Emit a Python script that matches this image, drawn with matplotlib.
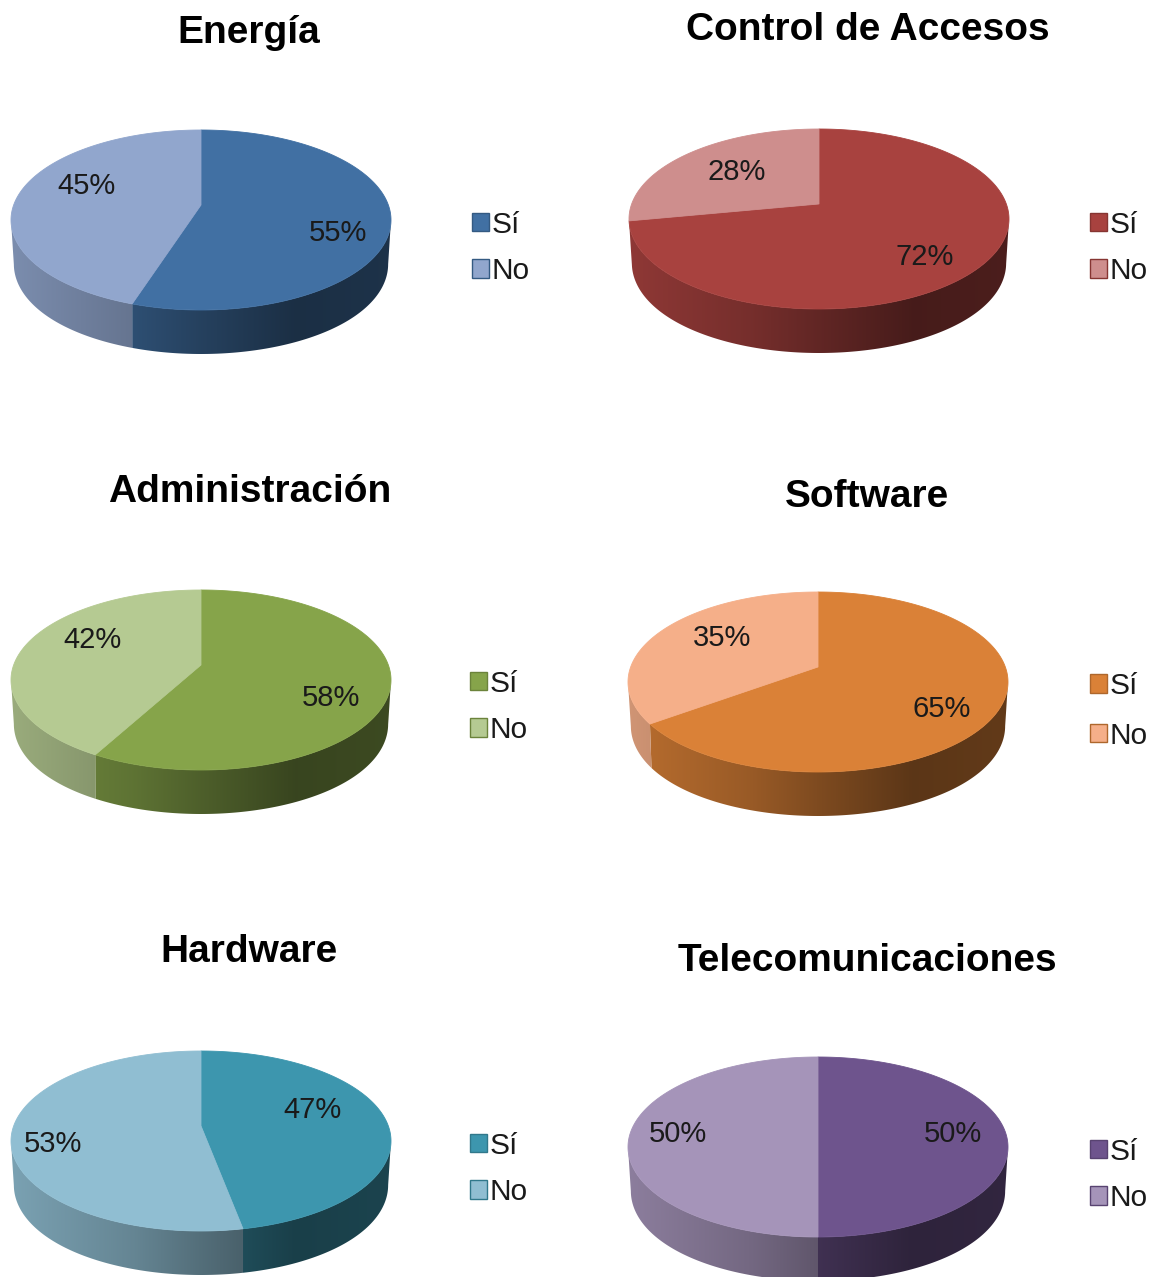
import numpy as np
import matplotlib
matplotlib.use("Agg")
import matplotlib.pyplot as plt
from matplotlib.patches import Patch, Polygon

plt.rcParams['font.family'] = ['Liberation Sans', 'DejaVu Sans']

# Data
titles = ["Energía", "Control de Accesos", "Administración", "Software", "Hardware", "Telecomunicaciones"]
si_values = [55, 72, 58, 65, 47, 50]
no_values = [45, 28, 42, 35, 53, 50]
legend_labels = ["Sí", "No"]

si_colors = ["#4170A3", "#A8423F", "#86A44A", "#DA8137", "#3D96AE", "#6E548D"]
no_colors = ["#91A6CD", "#CE8E8D", "#B5CA92", "#F5AF89", "#90BED2", "#A594B9"]

# Layout, all in pixels of the 1152x1277 picture
W, H = 1152, 1277
pie_centers = [(201, 220), (819, 219), (201, 680), (818, 682), (201, 1141), (818, 1147)]
title_pos = [(249, 33), (868, 30), (250, 492), (867, 497), (249, 952), (867, 961)]
si_label_pos = [(338, 233), (925, 257), (331, 698), (942, 709), (312, 1110), (953, 1134)]
no_label_pos = [(86, 186), (737, 172), (93, 640), (722, 638), (53, 1144), (678, 1134)]
legend_pos = [(472, 248), (1090, 248), (470, 707), (1090, 711), (470, 1169), (1090, 1175)]
legend_gap = [0.62, 0.62, 0.62, 0.72, 0.62, 0.62]
RX, RY, DEPTH = 190, 90, 44
TILT = 0.167  # centre of the disc sits above the middle of the ellipse
RIM_SHRINK = 0.015  # lower rim of the wall is a little narrower at the sides


def project(theta):
    # angle clockwise from the top -> point on the tilted disc
    x, y = np.sin(theta), np.cos(theta)
    den = 1 + TILT * y
    return x * np.sqrt(1 - TILT ** 2) / den, (y + TILT) / den


def shade(x):
    return np.interp(x, [-1, -0.35, 0, 0.5, 1], [0.85, 0.70, 0.58, 0.42, 0.45])


def draw_pie(ax, values, colors):
    depth = DEPTH / RY
    edges = np.radians(np.cumsum([0] + values) * 3.6)
    grad_x = np.linspace(-1, 1, 500)
    # side wall: horizontal gradient clipped to the visible part of each slice
    for start, end, col in zip(edges[:-1], edges[1:], colors):
        px, py = project(np.linspace(start, end, 400))
        keep = py <= 0
        if keep.sum() < 2 or np.ptp(px[keep]) < 0.01:
            continue
        px, py = px[keep], py[keep]
        base = np.array(matplotlib.colors.to_rgb(col))
        img = (base[None, :] * shade(grad_x)[:, None])[None, :, :]
        im = ax.imshow(img, extent=(-1, 1, -1 - depth, 1), aspect='auto',
                       interpolation='bilinear', zorder=1)
        low_x = px * (1 - RIM_SHRINK * px ** 4)
        wall = np.c_[np.r_[px, low_x[::-1]], np.r_[py, py[::-1] - depth]]
        clip = Polygon(wall, closed=True, transform=ax.transData)
        im.set_clip_path(clip)
    # top of the pie
    for start, end, col in zip(edges[:-1], edges[1:], colors):
        px, py = project(np.linspace(start, end, 300))
        ax.fill(np.r_[0, px], np.r_[TILT, py], facecolor=col, edgecolor=col,
                lw=0.6, clip_on=False, zorder=3)
    ax.set_xlim(-1, 1)
    ax.set_ylim(-1 - depth, 1)


fig = plt.figure(figsize=(W / 100, H / 100), dpi=100)

# overlay in pixel coordinates for the texts
over = fig.add_axes([0, 0, 1, 1], zorder=5)
over.set_xlim(0, W)
over.set_ylim(H, 0)
over.axis('off')

for k in range(6):
    cx, cy = pie_centers[k]
    left, bottom = (cx - RX) / W, (H - cy - RY - DEPTH) / H
    ax = fig.add_axes([left, bottom, 2 * RX / W, (2 * RY + DEPTH) / H])
    ax.axis('off')

    colors = [si_colors[k], no_colors[k]]
    draw_pie(ax, [si_values[k], no_values[k]], colors)

    over.text(*title_pos[k], titles[k], fontsize=28, fontweight='bold', ha='center', va='center', color='black')
    over.text(*si_label_pos[k], f"{si_values[k]}%", fontsize=21, ha='center', va='center', color='#1a1a1a')
    over.text(*no_label_pos[k], f"{no_values[k]}%", fontsize=21, ha='center', va='center', color='#1a1a1a')

    handles = [Patch(facecolor=c, edgecolor=np.array(matplotlib.colors.to_rgb(si_colors[k])) * 0.8, lw=1.0)
               for c in colors]
    lx, ly = legend_pos[k]
    fig.legend(handles, legend_labels, loc='center left', bbox_to_anchor=(lx / W, 1 - ly / H),
               frameon=False, fontsize=21.5, handlelength=0.58, handleheight=0.58,
               handletextpad=0.06, labelspacing=legend_gap[k], borderpad=0, borderaxespad=0,
               labelcolor='#1a1a1a')

plt.savefig("out.png", dpi=100)
